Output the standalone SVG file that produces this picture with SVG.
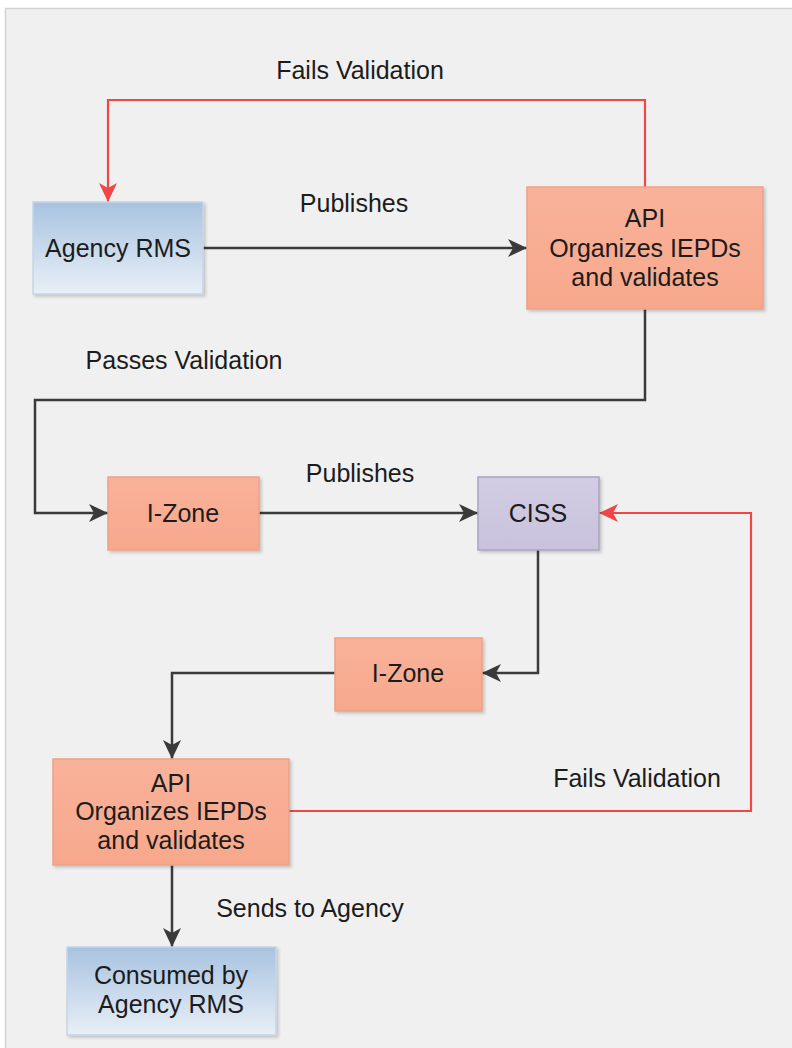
<svg xmlns="http://www.w3.org/2000/svg" width="792" height="1048" viewBox="0 0 792 1048">
<defs>
<linearGradient id="gOrange" x1="0" y1="0" x2="0" y2="1">
<stop offset="0" stop-color="#f9b29a"/><stop offset="1" stop-color="#f7a88c"/>
</linearGradient>
<linearGradient id="gBlue" x1="0" y1="0" x2="0" y2="1">
<stop offset="0" stop-color="#a8c3e0"/><stop offset="1" stop-color="#e8eff7"/>
</linearGradient>
<linearGradient id="gPurple" x1="0" y1="0" x2="0" y2="1">
<stop offset="0" stop-color="#d2cce4"/><stop offset="1" stop-color="#c9c2dc"/>
</linearGradient>
<filter id="sh" x="-10%" y="-10%" width="130%" height="130%">
<feDropShadow dx="2" dy="2" stdDeviation="1.5" flood-color="#000" flood-opacity="0.18"/>
</filter>
<marker id="ab" viewBox="0 0 19 18" refX="19" refY="9" markerWidth="19" markerHeight="18" markerUnits="userSpaceOnUse" orient="auto">
<path d="M0,0 L19,9 L0,18 L5,9 Z" fill="#3a3a3a"/>
</marker>
<marker id="ar" viewBox="0 0 19 18" refX="19" refY="9" markerWidth="19" markerHeight="18" markerUnits="userSpaceOnUse" orient="auto">
<path d="M0,0 L19,9 L0,18 L5,9 Z" fill="#f04646"/>
</marker>
</defs>
<style>
text{font-family:"Liberation Sans",Arial,sans-serif;font-size:25px;fill:#1c1c1c;text-anchor:middle}
.o{fill:url(#gOrange);stroke:#eca287;stroke-width:1.5;filter:url(#sh)}
.b{fill:url(#gBlue);stroke:#c6d5e6;stroke-width:1.5;filter:url(#sh)}
.p{fill:url(#gPurple);stroke:#aaa3c3;stroke-width:1.5;filter:url(#sh)}
.k{fill:none;stroke:#3a3a3a;stroke-width:2.5;marker-end:url(#ab)}
.r{fill:none;stroke:#f04646;stroke-width:2.2;marker-end:url(#ar)}
</style>
<rect width="792" height="1048" fill="#ffffff"/>
<rect x="5.5" y="8.5" width="800" height="1050" fill="#f0f0f0" stroke="#d2d2d2" stroke-width="1.5"/>

<g id="connectors">
<path class="k" d="M203,248 H527"/>
<path class="r" d="M645,187 V100 H108 V202"/>
<path class="k" d="M645,309 V400 H35 V513 H108"/>
<path class="k" d="M259,513 H478"/>
<path class="k" d="M538,550 V673 H482"/>
<path class="k" d="M335,673 H172 V759"/>
<path class="r" d="M289,811 H751 V513 H599"/>
<path class="k" d="M172,865 V947"/>
</g>

<g id="labels">
<text x="360" y="79">Fails Validation</text>
<text x="354" y="212">Publishes</text>
<text x="184" y="369">Passes Validation</text>
<text x="360" y="482">Publishes</text>
<text x="637" y="787">Fails Validation</text>
<text x="310" y="917">Sends to Agency</text>
</g>

<g id="agency-rms">
<rect class="b" x="33" y="202" width="170" height="92"/>
<text x="118" y="257">Agency RMS</text>
</g>

<g id="api-1">
<rect class="o" x="527" y="187" width="236" height="122"/>
<text x="645" y="227">API</text>
<text x="645" y="257">Organizes IEPDs</text>
<text x="645" y="286">and validates</text>
</g>

<g id="izone-1">
<rect class="o" x="108" y="477" width="151" height="73"/>
<text x="183" y="522">I-Zone</text>
</g>

<g id="ciss">
<rect class="p" x="478" y="477" width="121" height="73"/>
<text x="538" y="522">CISS</text>
</g>

<g id="izone-2">
<rect class="o" x="335" y="638" width="147" height="73"/>
<text x="408" y="682">I-Zone</text>
</g>

<g id="api-2">
<rect class="o" x="53" y="759" width="236" height="106"/>
<text x="171" y="792">API</text>
<text x="171" y="820">Organizes IEPDs</text>
<text x="171" y="849">and validates</text>
</g>

<g id="consumed">
<rect class="b" x="67" y="947" width="209" height="88"/>
<text x="171" y="984">Consumed by</text>
<text x="171" y="1013">Agency RMS</text>
</g>
</svg>
